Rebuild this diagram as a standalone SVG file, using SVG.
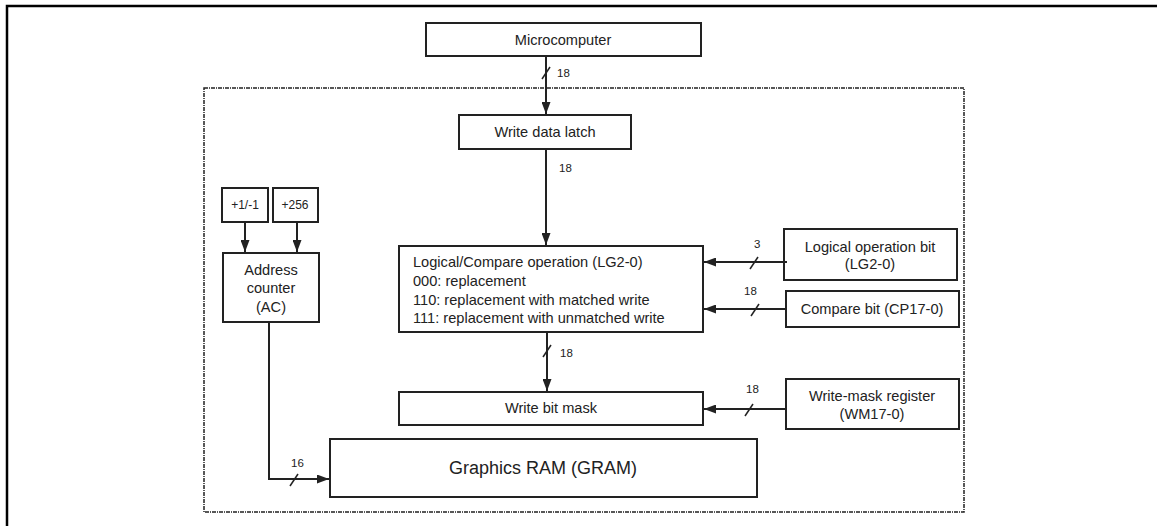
<svg xmlns="http://www.w3.org/2000/svg" width="1157" height="526" viewBox="0 0 1157 526">
<style>
.box{fill:#fff;stroke:#222;stroke-width:2}
.t{font-family:"Liberation Sans",Arial,sans-serif;font-size:14.6px;fill:#222}
.c{text-anchor:middle}
.n{font-family:"Liberation Sans",Arial,sans-serif;font-size:11.5px;fill:#222}
.w{stroke:#222;stroke-width:2;fill:none}
.s{stroke:#222;stroke-width:1.5;fill:none}
</style>
<defs>
<marker id="ah" viewBox="0 0 12 9" refX="12" refY="4.5" markerWidth="12" markerHeight="9" markerUnits="userSpaceOnUse" orient="auto">
<path d="M0,0 L12,4.5 L0,9 Z" fill="#222"/>
</marker>
</defs>
<path d="M7,526 V6 H1157" fill="none" stroke="#000" stroke-width="2.5"/>
<rect x="204" y="88" width="760" height="424" fill="none" stroke="#222" stroke-width="1.5" stroke-dasharray="4 1 1 1"/>

<g id="microcomputer"><rect class="box" x="426" y="23" width="275" height="33"/><text class="t c" x="563" y="45">Microcomputer</text></g>
<g id="write-data-latch"><rect class="box" x="459" y="115" width="172" height="34"/><text class="t c" x="545" y="137">Write data latch</text></g>
<g id="inc1"><rect class="box" x="222" y="188" width="46" height="34"/><text class="t c" x="245" y="209" style="font-size:12px">+1/-1</text></g>
<g id="inc256"><rect class="box" x="273" y="188" width="45" height="34"/><text class="t c" x="295" y="209" style="font-size:12px">+256</text></g>
<g id="address-counter"><rect class="box" x="223" y="253" width="96" height="69"/><text class="t c" x="271" y="275">Address</text><text class="t c" x="271" y="293">counter</text><text class="t c" x="271" y="312">(AC)</text></g>
<g id="logical-compare"><rect class="box" x="399" y="246" width="304" height="86"/>
<text class="t" x="413" y="267">Logical/Compare operation (LG2-0)</text>
<text class="t" x="413" y="286">000: replacement</text>
<text class="t" x="413" y="305">110: replacement with matched write</text>
<text class="t" x="413" y="323">111: replacement with unmatched write</text></g>
<g id="logical-op-bit"><rect class="box" x="784" y="229" width="173" height="51"/><text class="t c" x="870" y="252">Logical operation bit</text><text class="t c" x="870" y="269">(LG2-0)</text></g>
<g id="compare-bit"><rect class="box" x="786" y="291" width="173" height="36"/><text class="t c" x="872" y="314">Compare bit (CP17-0)</text></g>
<g id="write-bit-mask"><rect class="box" x="399" y="392" width="304" height="33"/><text class="t c" x="551" y="413">Write bit mask</text></g>
<g id="write-mask-register"><rect class="box" x="786" y="379" width="173" height="50"/><text class="t c" x="872" y="401">Write-mask register</text><text class="t c" x="872" y="419">(WM17-0)</text></g>
<g id="gram"><rect class="box" x="330" y="439" width="427" height="58"/><text class="t c" x="543" y="474" style="font-size:18px">Graphics RAM (GRAM)</text></g>

<g id="connectors">
<line class="w" x1="546" y1="56" x2="546" y2="114" marker-end="url(#ah)"/>
<line class="s" x1="542" y1="79" x2="550" y2="67"/>
<text class="n" x="557" y="77">18</text>

<line class="w" x1="546" y1="149" x2="546" y2="245" marker-end="url(#ah)"/>
<text class="n" x="559" y="172">18</text>

<line class="w" x1="245" y1="222" x2="245" y2="252" marker-end="url(#ah)"/>
<line class="w" x1="297" y1="222" x2="297" y2="252" marker-end="url(#ah)"/>

<line class="w" x1="787" y1="262" x2="704" y2="262" marker-end="url(#ah)"/>
<line class="s" x1="750" y1="269" x2="758" y2="257"/>
<text class="n" x="754" y="248">3</text>

<line class="w" x1="786" y1="309" x2="704" y2="309" marker-end="url(#ah)"/>
<line class="s" x1="751" y1="316" x2="759" y2="304"/>
<text class="n" x="744" y="295">18</text>

<line class="w" x1="547" y1="332" x2="547" y2="391" marker-end="url(#ah)"/>
<line class="s" x1="543" y1="357" x2="551" y2="345"/>
<text class="n" x="560" y="357">18</text>

<line class="w" x1="786" y1="409" x2="704" y2="409" marker-end="url(#ah)"/>
<line class="s" x1="745" y1="416" x2="753" y2="404"/>
<text class="n" x="746" y="393">18</text>

<polyline class="w" points="269,322 269,479 329,479" marker-end="url(#ah)"/>
<line class="s" x1="290" y1="486" x2="298" y2="474"/>
<text class="n" x="291" y="467">16</text>
</g>
</svg>
